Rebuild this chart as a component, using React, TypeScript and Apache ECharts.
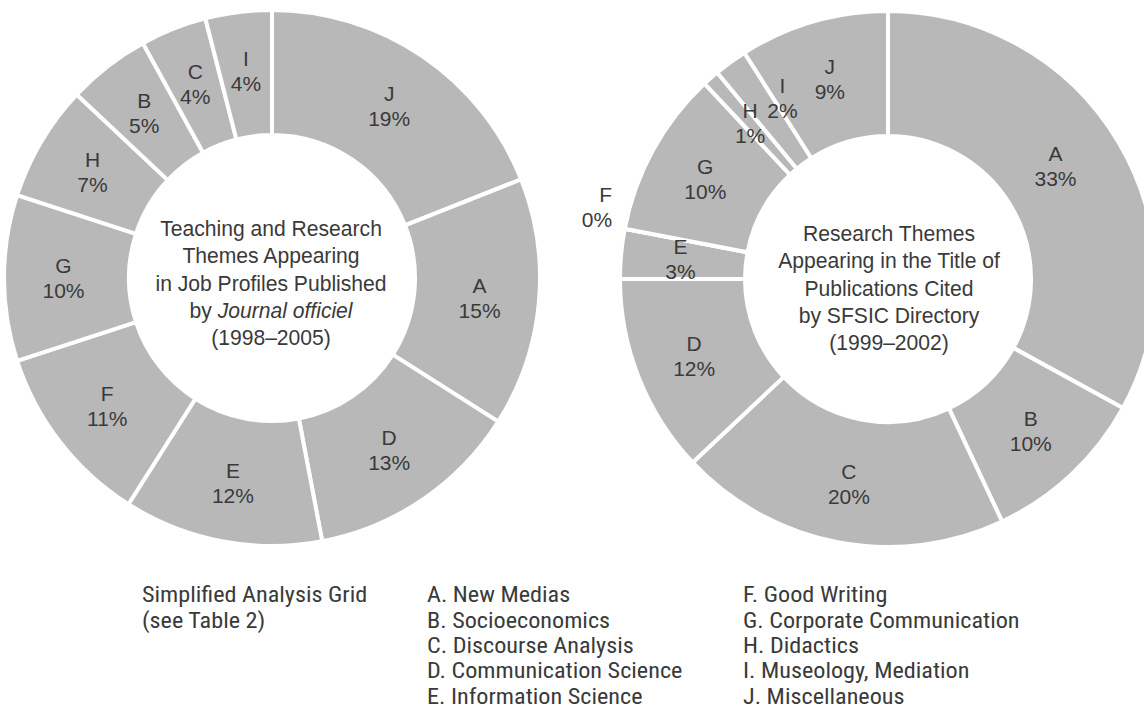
import React, { useEffect, useRef } from "react";
import * as echarts from "echarts";

// ---- Data ----
const leftCategories = ["J", "A", "D", "E", "F", "G", "H", "B", "C", "I"];
const leftValues = [19, 15, 13, 12, 11, 10, 7, 5, 4, 4];

const rightCategories = ["A", "B", "C", "D", "E", "F", "G", "H", "I", "J"];
const rightValues = [33, 10, 20, 12, 3, 0, 10, 1, 2, 9];

const leftTitleLines = [
  "Teaching and Research",
  "Themes Appearing",
  "in Job Profiles Published",
  "by {i|Journal officiel}",
  "(1998–2005)",
];
const rightTitleLines = [
  "Research Themes",
  "Appearing in the Title of",
  "Publications Cited",
  "by SFSIC Directory",
  "(1999–2002)",
];

const gridNoteLines = ["Simplified Analysis Grid", "(see Table 2)"];
const themeCodes = ["A", "B", "C", "D", "E", "F", "G", "H", "I", "J"];
const themeNames = [
  "New Medias",
  "Socioeconomics",
  "Discourse Analysis",
  "Communication Science",
  "Information Science",
  "Good Writing",
  "Corporate Communication",
  "Didactics",
  "Museology, Mediation",
  "Miscellaneous",
];

// ---- Style ----
const SLICE = "#b8b8b8";
const INK = "#3a3a3a";
const FONT = "'Liberation Sans', Arial, sans-serif";
const NARROW = "'Liberation Sans Narrow', 'Roboto Condensed', 'DejaVu Sans Condensed', sans-serif";

// small hand nudges of label placement (style only)
const leftNudges: Record<string, number[]> = {};
const rightNudges: Record<string, number[]> = {
  A: [-12, -7],
  I: [17, -12],
  F: [10, -18],
};

function pieSeries(cats: string[], vals: number[], center: number[], nudges: Record<string, number[]>) {
  return {
    type: "pie",
    center,
    radius: [143, 268],
    startAngle: 90,
    clockwise: true,
    avoidLabelOverlap: false,
    silent: true,
    itemStyle: { color: SLICE, borderColor: "#ffffff", borderWidth: 4 },
    label: {
      show: true,
      position: "inside",
      formatter: (p: any) => `${p.name}\n${p.value}%`,
      fontFamily: FONT,
      fontSize: 21,
      lineHeight: 25,
      color: INK,
    },
    labelLine: { show: false },
    labelLayout: (p: any) => {
      const n = nudges[cats[p.dataIndex]];
      return n ? { dx: n[0], dy: n[1] } : {};
    },
    data: cats.map((c, i) =>
      vals[i] === 0
        ? {
            name: c,
            value: vals[i],
            label: { position: "outside", align: "center" },
            labelLine: { show: false, length: 18, length2: 0 },
          }
        : { name: c, value: vals[i] }
    ),
  };
}

function titleText(lines: string[], cx: number, cy: number) {
  const lh = 27.2;
  return {
    type: "text",
    x: cx,
    y: cy,
    scaleX: 0.96,
    silent: true,
    style: {
      x: 0,
      y: 0,
      text: lines.join("\n"),
      fill: INK,
      fontFamily: FONT,
      fontSize: 22,
      lineHeight: lh,
      textAlign: "center",
      textVerticalAlign: "middle",
      rich: { i: { fontStyle: "italic", fontSize: 22, lineHeight: lh, fontFamily: FONT, fill: INK } },
    },
  };
}

function legendTexts() {
  const lh = 25.4;
  const top = 595 - lh / 2;
  const mk = (lines: string[], x: number) => ({
    type: "text",
    x,
    y: top,
    scaleX: 1.1,
    silent: true,
    style: {
      x: 0,
      y: 0,
      text: lines.join("\n"),
      fill: INK,
      fontFamily: NARROW,
      fontSize: 22,
      lineHeight: lh,
      textAlign: "left",
      textVerticalAlign: "top",
    },
  });
  const items = themeCodes.map((c, i) => `${c}. ${themeNames[i]}`);
  return [mk(gridNoteLines, 142), mk(items.slice(0, 5), 427), mk(items.slice(5), 743)];
}

export default function App() {
  const ref = useRef<HTMLDivElement>(null);
  useEffect(() => {
    if (!ref.current) return;
    const chart = echarts.init(ref.current, undefined, { renderer: "svg" });
    chart.setOption({
      animation: false,
      backgroundColor: "#ffffff",
      series: [
        pieSeries(leftCategories, leftValues, [272, 278], leftNudges),
        pieSeries(rightCategories, rightValues, [888, 279], rightNudges),
      ],
      graphic: [
        titleText(leftTitleLines, 271, 283),
        titleText(rightTitleLines, 889, 288),
        ...legendTexts(),
      ],
    });
    return () => chart.dispose();
  }, []);
  return (
    <div
      ref={ref}
      style={{ position: "fixed", left: 0, top: 0, width: 1144, height: 714, background: "#fff" }}
    />
  );
}
